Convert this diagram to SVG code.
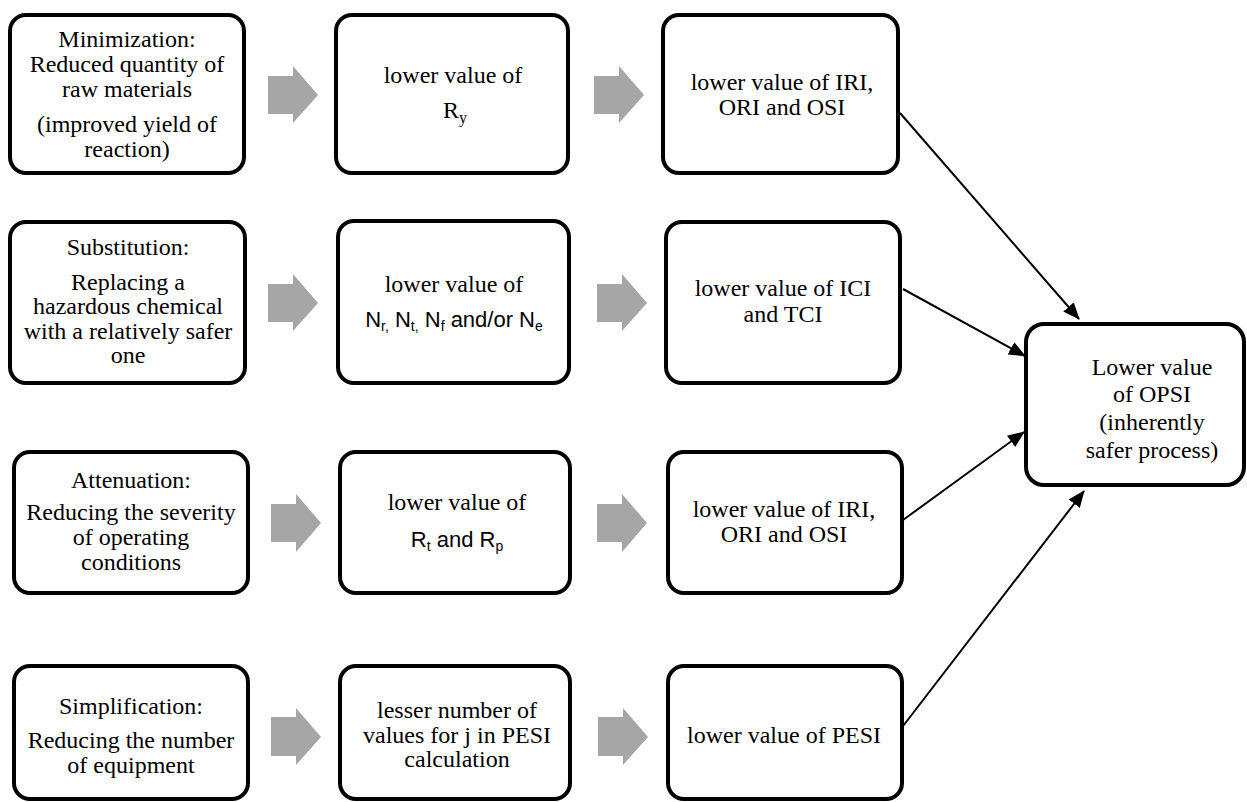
<svg xmlns="http://www.w3.org/2000/svg" width="1247" height="802" viewBox="0 0 1247 802">
<style>
.box{fill:#fff;stroke:#000;stroke-width:4}
.t{font-family:"Liberation Serif","Times New Roman",Times,serif;font-size:24px;fill:#000;text-anchor:middle}
.s{font-family:"Liberation Sans",Arial,sans-serif;font-size:22px;fill:#000;text-anchor:middle}
.blk{fill:#a6a6a6}
.ln{stroke:#000;stroke-width:2;fill:none;marker-end:url(#ah)}
</style>
<defs>
<marker id="ah" markerUnits="userSpaceOnUse" markerWidth="18" markerHeight="14" refX="16" refY="7" orient="auto">
<path d="M0,0 L17,7 L0,14 Z" fill="#000"/>
</marker>
</defs>
<rect width="1247" height="802" fill="#fff"/>

<g id="connectors">
<polygon class="blk" points="268,76 293,76 293,66 318,95 293,123 293,114 268,114"/>
<polygon class="blk" points="268,284 293,284 293,274 318,303 293,331 293,322 268,322"/>
<polygon class="blk" points="271,504 296,504 296,494 321,523 296,552 296,542 271,542"/>
<polygon class="blk" points="271,717 296,717 296,708 321,737 296,765 296,756 271,756"/>
<polygon class="blk" points="594,76 619,76 619,66 644,95 619,123 619,114 594,114"/>
<polygon class="blk" points="597,284 622,284 622,274 647,303 622,331 622,322 597,322"/>
<polygon class="blk" points="597,504 622,504 622,494 647,523 622,552 622,542 597,542"/>
<polygon class="blk" points="598,717 623,717 623,708 648,737 623,765 623,756 598,756"/>
<line class="ln" x1="900" y1="113" x2="1079" y2="319"/>
<line class="ln" x1="903" y1="289" x2="1025" y2="356"/>
<line class="ln" x1="903" y1="520" x2="1024" y2="432"/>
<line class="ln" x1="900" y1="730" x2="1084" y2="491"/>
</g>

<g id="n-minimization">
<rect class="box" x="10" y="15" width="234" height="158" rx="16"/>
<text class="t" x="127" y="47">Minimization:</text>
<text class="t" x="127" y="72">Reduced quantity of</text>
<text class="t" x="127" y="97">raw materials</text>
<text class="t" x="127" y="132">(improved yield of</text>
<text class="t" x="127" y="157">reaction)</text>
</g>
<g id="n-substitution">
<rect class="box" x="10" y="222" width="235" height="161" rx="16"/>
<text class="t" x="128" y="255">Substitution:</text>
<text class="t" x="128" y="290">Replacing a</text>
<text class="t" x="128" y="314">hazardous chemical</text>
<text class="t" x="128" y="339">with a relatively safer</text>
<text class="t" x="128" y="363">one</text>
</g>
<g id="n-attenuation">
<rect class="box" x="14" y="452" width="234" height="141" rx="16"/>
<text class="t" x="131" y="488">Attenuation:</text>
<text class="t" x="131" y="520">Reducing the severity</text>
<text class="t" x="131" y="545">of operating</text>
<text class="t" x="131" y="570">conditions</text>
</g>
<g id="n-simplification">
<rect class="box" x="14" y="666" width="234" height="133" rx="16"/>
<text class="t" x="131" y="714">Simplification:</text>
<text class="t" x="131" y="748">Reducing the number</text>
<text class="t" x="131" y="773">of equipment</text>
</g>

<g id="n-ry">
<rect class="box" x="336" y="15" width="232" height="158" rx="16"/>
<text class="t" x="453" y="83">lower value of</text>
<text class="t" x="455" y="118">R<tspan font-size="16" dy="5">y</tspan></text>
</g>
<g id="n-n">
<rect class="box" x="338" y="221" width="231" height="162" rx="16"/>
<text class="t" x="454" y="292">lower value of</text>
<text class="s" x="454" y="327">N<tspan font-size="14" dy="4">r,</tspan><tspan dy="-4"> N</tspan><tspan font-size="14" dy="4">t,</tspan><tspan dy="-4"> N</tspan><tspan font-size="14" dy="4">f</tspan><tspan dy="-4"> and/or N</tspan><tspan font-size="14" dy="4">e</tspan></text>
</g>
<g id="n-r">
<rect class="box" x="340" y="452" width="230" height="141" rx="16"/>
<text class="t" x="457" y="510">lower value of</text>
<text class="s" x="457" y="547">R<tspan font-size="14" dy="4">t</tspan><tspan dy="-4"> and R</tspan><tspan font-size="14" dy="4">p</tspan></text>
</g>
<g id="n-j">
<rect class="box" x="340" y="666" width="230" height="133" rx="16"/>
<text class="t" x="457" y="718">lesser number of</text>
<text class="t" x="457" y="743">values for j in PESI</text>
<text class="t" x="457" y="767">calculation</text>
</g>

<g id="n-iri1">
<rect class="box" x="663" y="15" width="235" height="158" rx="16"/>
<text class="t" x="782" y="90">lower value of IRI,</text>
<text class="t" x="782" y="115">ORI and OSI</text>
</g>
<g id="n-ici">
<rect class="box" x="666" y="222" width="234" height="161" rx="16"/>
<text class="t" x="783" y="296">lower value of ICI</text>
<text class="t" x="783" y="322">and TCI</text>
</g>
<g id="n-iri2">
<rect class="box" x="668" y="452" width="234" height="141" rx="16"/>
<text class="t" x="784" y="517">lower value of IRI,</text>
<text class="t" x="784" y="542">ORI and OSI</text>
</g>
<g id="n-pesi">
<rect class="box" x="668" y="666" width="234" height="133" rx="16"/>
<text class="t" x="784" y="743">lower value of PESI</text>
</g>

<g id="n-opsi">
<rect class="box" x="1026" y="324" width="218" height="161" rx="18"/>
<text class="t" x="1152" y="375">Lower value</text>
<text class="t" x="1152" y="402">of OPSI</text>
<text class="t" x="1152" y="430">(inherently</text>
<text class="t" x="1152" y="458">safer process)</text>
</g>
</svg>
